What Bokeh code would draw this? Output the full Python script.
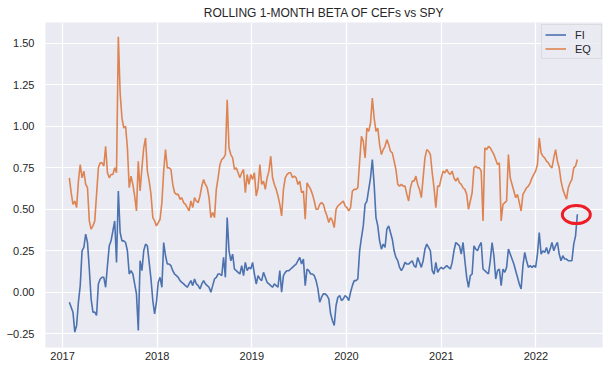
import pandas as pd
from bokeh.plotting import figure
from bokeh.models import (Range1d, FixedTicker, CustomJSTickFormatter, DatetimeTickFormatter,
                          Legend, LegendItem, ColumnDataSource)
from bokeh.embed import file_html
from bokeh.resources import INLINE

TITLE = "ROLLING 1-MONTH BETA OF CEFs vs SPY"
START = "2017-01-27"
STEP = "7D"
SERIES = ["FI", "EQ"]

fi = [
    -0.06, -0.09, -0.12, -0.24, -0.20, -0.06, 0.04, 0.25, 0.27, 0.35,
    0.30, 0.14, -0.04, -0.12, -0.12, -0.14, 0.05, 0.08, 0.09, 0.09,
    0.03, 0.16, 0.28, 0.31, 0.37, 0.43, 0.18, 0.61, 0.36, 0.31,
    0.31, 0.30, 0.25, 0.11, 0.13, 0.11, 0.05, -0.01, -0.23, 0.19,
    0.13, 0.25, 0.29, 0.28, 0.18, 0.08, -0.05, -0.13, -0.06, 0.06,
    0.09, 0.03, 0.30, 0.22, 0.17, 0.17, 0.16, 0.13, 0.11, 0.10,
    0.09, 0.07, 0.06, 0.05, 0.04, 0.03, 0.05, 0.07, 0.04, 0.08,
    0.05, 0.04, 0.02, 0.05, 0.07, 0.05, 0.04, 0.03, 0.00, 0.04,
    0.08, 0.09, 0.11, 0.11, 0.10, 0.21, 0.09, 0.45, 0.25, 0.19,
    0.23, 0.14, 0.13, 0.12, 0.11,
    0.16, 0.10, 0.18, 0.13, 0.15, 0.14, 0.18, 0.11, 0.05, 0.10,
    0.08, 0.07, 0.12, 0.09, 0.06, 0.05, 0.04, 0.03, 0.05, 0.04,
    0.03, 0.13, 0.00, 0.10, 0.12, 0.13, 0.13, 0.14, 0.15, 0.16,
    0.17, 0.19, 0.21, 0.17, 0.20, 0.04, 0.14, 0.13, 0.11, 0.11,
    0.10, 0.07, 0.02, -0.06, -0.03, -0.01, -0.01, -0.02, -0.04, -0.13,
    -0.17, -0.20, -0.08, -0.03, -0.02, -0.05, -0.04, -0.02, -0.03, -0.05,
    0.00, 0.04, 0.07, 0.07, 0.08, 0.25, 0.33, 0.40, 0.53, 0.55,
    0.62, 0.69, 0.80, 0.65, 0.45, 0.40, 0.31, 0.26, 0.29, 0.27,
    0.38, 0.40, 0.36, 0.32, 0.25, 0.21, 0.19, 0.15, 0.13, 0.15,
    0.18, 0.17, 0.17, 0.18, 0.19, 0.16, 0.15, 0.21, 0.18, 0.15,
    0.19, 0.26, 0.29, 0.27, 0.25,
    0.13, 0.11, 0.18, 0.12, 0.14, 0.15, 0.14, 0.15, 0.16, 0.15,
    0.14, 0.18, 0.25, 0.30, 0.29, 0.28, 0.23, 0.30, 0.19, 0.09,
    0.03, 0.10, 0.11, 0.28, 0.26, 0.25, 0.28, 0.30, 0.14, 0.13,
    0.12, 0.11, 0.19, 0.30, 0.22, 0.08, 0.13, 0.14, 0.04, 0.14,
    0.12, 0.15, 0.26, 0.23, 0.20, 0.17, 0.13, 0.09, 0.05, 0.02,
    0.16, 0.24, 0.19, 0.15, 0.16, 0.15, 0.16, 0.15, 0.23, 0.36,
    0.23, 0.25, 0.24, 0.27, 0.23, 0.26, 0.30, 0.25, 0.28, 0.30,
    0.23, 0.19, 0.22, 0.20, 0.20, 0.19, 0.19, 0.19, 0.29, 0.34,
    0.47,
]

eq = [
    0.69, 0.60, 0.53, 0.55, 0.51, 0.67, 0.77, 0.69, 0.73, 0.65,
    0.63, 0.43, 0.38, 0.40, 0.43, 0.59, 0.75, 0.78, 0.78, 0.76,
    0.88, 0.72, 0.69, 0.71, 0.71, 0.75, 0.72, 1.54, 1.20, 1.05,
    0.99, 1.00, 0.87, 0.63, 0.70, 0.65, 0.58, 0.49, 0.79, 0.61,
    0.75, 0.87, 0.93, 0.73, 0.67, 0.59, 0.45, 0.43, 0.40, 0.42,
    0.44, 0.54, 0.73, 0.86, 0.75, 0.75, 0.74, 0.65, 0.60, 0.59,
    0.59, 0.56, 0.57, 0.54, 0.53, 0.51, 0.49, 0.55, 0.51, 0.57,
    0.55, 0.54, 0.58, 0.64, 0.68, 0.65, 0.63, 0.57, 0.45, 0.48,
    0.45, 0.62, 0.69, 0.77, 0.80, 0.81, 0.83, 1.16, 0.87, 0.83,
    0.81, 0.74, 0.75, 0.72, 0.69,
    0.72, 0.74, 0.60, 0.71, 0.65, 0.71, 0.68, 0.72, 0.58, 0.63,
    0.77, 0.65, 0.67, 0.62, 0.69, 0.73, 0.82, 0.69, 0.65, 0.62,
    0.58, 0.53, 0.46, 0.62, 0.69, 0.71, 0.72, 0.72, 0.69, 0.70,
    0.69, 0.65, 0.67, 0.60, 0.61, 0.44, 0.66, 0.64, 0.62, 0.59,
    0.55, 0.50, 0.50, 0.53, 0.54, 0.53, 0.49, 0.46, 0.42, 0.45,
    0.43, 0.39, 0.50, 0.52, 0.53, 0.54, 0.55, 0.52, 0.51, 0.49,
    0.51, 0.61, 0.62, 0.62, 0.63, 0.79, 0.94, 0.91, 0.81, 0.99,
    0.97, 1.02, 1.17, 1.05, 0.97, 0.99, 0.89, 0.83, 0.86, 0.88,
    0.92, 0.89, 0.85, 0.84, 0.79, 0.74, 0.65, 0.64, 0.65, 0.64,
    0.64, 0.59, 0.55, 0.63, 0.67, 0.67, 0.70, 0.65, 0.62, 0.57,
    0.69, 0.81, 0.86, 0.85, 0.83,
    0.72, 0.63, 0.51, 0.64, 0.64, 0.69, 0.73, 0.72, 0.74, 0.72,
    0.71, 0.73, 0.69, 0.67, 0.69, 0.66, 0.65, 0.63, 0.62, 0.59,
    0.50, 0.55, 0.60, 0.75, 0.76, 0.75, 0.75, 0.73, 0.43, 0.87,
    0.86, 0.88, 0.87, 0.85, 0.83, 0.80, 0.77, 0.78, 0.43, 0.53,
    0.54, 0.55, 0.83, 0.69, 0.65, 0.61, 0.57, 0.59, 0.54, 0.49,
    0.59, 0.61, 0.63, 0.64, 0.66, 0.69, 0.71, 0.73, 0.77, 0.93,
    0.84, 0.82, 0.81, 0.79, 0.78, 0.76, 0.75, 0.81, 0.86, 0.79,
    0.75, 0.67, 0.62, 0.59, 0.56, 0.63, 0.66, 0.68, 0.75, 0.76,
    0.80,
]

year_ticks = [2017, 2018, 2019, 2020, 2021, 2022]
y_ticks = [-0.25, 0.0, 0.25, 0.5, 0.75, 1.0, 1.25, 1.5]
x_limits = ["2016-10-27", "2022-09-15"]
y_limits = [-0.333, 1.626]
mark_date = ["2022-06-06"]
mark_value = [0.468]

FONT = "Liberation Sans"
TXT = "#262626"
BG = "#EAEAF2"
COLORS = ["#4C72B0", "#DD8452"]

dates = pd.date_range(START, periods=len(fi), freq=STEP)
src = ColumnDataSource(dict(date=dates, FI=fi, EQ=eq))

p = figure(width=615, height=374, x_axis_type="datetime", output_backend="svg",
           toolbar_location=None,
           x_range=Range1d(pd.Timestamp(x_limits[0]), pd.Timestamp(x_limits[1])),
           y_range=Range1d(y_limits[0], y_limits[1]),
           min_border_left=45, min_border_right=13, min_border_top=22, min_border_bottom=27)

p.title.text = TITLE
p.title.align = "center"
p.title.text_font = FONT
p.title.text_font_size = "12px"
p.title.text_font_style = "normal"
p.title.text_color = TXT
p.title.standoff = 5
p.title.offset = 0

p.background_fill_color = BG
p.border_fill_color = "white"
p.outline_line_color = None

for g in (p.xgrid, p.ygrid):
    g.grid_line_color = "white"
    g.grid_line_width = 1.2

for ax in (p.xaxis, p.yaxis):
    ax.axis_line_color = None
    ax.major_tick_line_color = None
    ax.minor_tick_line_color = None
    ax.major_tick_out = 0
    ax.major_tick_in = 0
    ax.major_label_text_font = FONT
    ax.major_label_text_font_size = "11px"
    ax.major_label_text_color = TXT

p.xaxis.ticker = FixedTicker(ticks=[pd.Timestamp(f"{y}-01-01").timestamp() * 1000 for y in year_ticks])
p.xaxis.formatter = DatetimeTickFormatter(years="%Y", months="%Y", days="%Y", hours="%Y",
                                          minutes="%Y", seconds="%Y", milliseconds="%Y")
p.xaxis.major_label_standoff = 4
p.yaxis.ticker = FixedTicker(ticks=y_ticks)
p.yaxis.formatter = CustomJSTickFormatter(code="return tick.toFixed(2).replace('-', '\\u2212');")
p.yaxis.major_label_standoff = 11

renderers = []
for name, c in zip(SERIES, COLORS):
    r = p.line("date", name, source=src, line_color=c, line_width=1.6)
    renderers.append(r)

p.ellipse(x=[pd.Timestamp(d) for d in mark_date], y=mark_value, width=28, height=18,
          width_units="screen", height_units="screen", fill_alpha=0,
          line_color="#EE1C25", line_width=3)

legend = Legend(items=[LegendItem(label=n, renderers=[r]) for n, r in zip(SERIES, renderers)],
                location=(496, 288), margin=0, padding=3, spacing=1,
                glyph_width=21, glyph_height=13, label_height=13, label_width=23,
                label_standoff=9,
                label_text_font=FONT, label_text_font_size="11px", label_text_color=TXT,
                border_line_color="#CCCCCC", border_line_width=1,
                background_fill_color=BG, background_fill_alpha=0.8)
p.add_layout(legend)

open("out.html", "w").write(file_html(p, INLINE))
